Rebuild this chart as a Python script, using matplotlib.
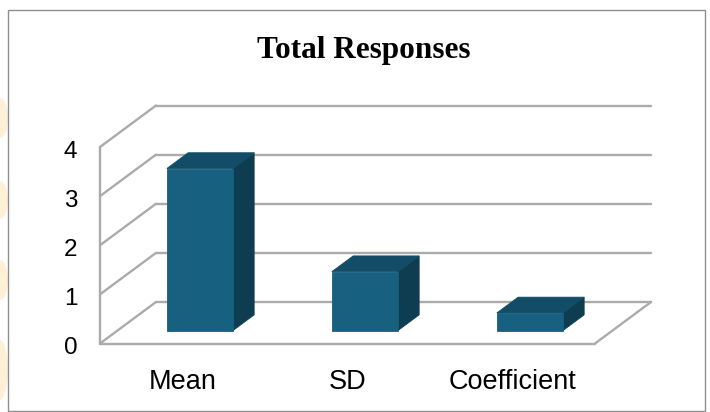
import matplotlib
matplotlib.use("Agg")
import matplotlib.pyplot as plt
from matplotlib.patches import Polygon, Rectangle, Ellipse
from matplotlib.lines import Line2D
from matplotlib.transforms import ScaledTranslation

# Chart data
categories = ["Mean", "SD", "Coefficient"]
values = [3.3, 1.2, 0.36]
y_ticks = [0, 1, 2, 3, 4]
title = "Total Responses"

W, H, DPI = 710, 412, 100
fig = plt.figure(figsize=(W / DPI, H / DPI), dpi=DPI)
fig.patch.set_facecolor("white")

# Front plane of the 3-D box, placed in pixels
left_px, right_px = 100, 595
base_px, top_px = 343.5, 147
ax = fig.add_axes([left_px / W, (H - base_px) / H,
                   (right_px - left_px) / W, (base_px - top_px) / H])
ax.set_xlim(0, len(categories))
ax.set_ylim(0, max(y_ticks))
ax.axis("off")
ax.set_zorder(4)

# Depth vector of the box (inches, for a full depth of 1)
DEPTH_X, DEPTH_Y = 0.56, 0.415


def proj(x, y, d):
    """Data point (x, y) pushed back by depth fraction d -> figure fraction."""
    px, py = ax.transData.transform((x, y))
    px += DEPTH_X * d * fig.dpi
    py += DEPTH_Y * d * fig.dpi
    return fig.transFigure.inverted().transform((px, py))


grid_kw = dict(color="#ABABAB", lw=1.7, solid_capstyle="round",
               transform=fig.transFigure, zorder=1)


def seg(p, q):
    fig.add_artist(Line2D([p[0], q[0]], [p[1], q[1]], **grid_kw))


n = len(categories)
ymax = max(y_ticks)

# Back wall gridlines and left wall diagonals
for k in y_ticks:
    seg(proj(0, k, 1), proj(n, k, 1))
    seg(proj(0, k, 0), proj(0, k, 1))
# Left wall front edge
seg(proj(0, 0, 0), proj(0, ymax, 0))
# Floor
seg(proj(0, 0, 0), proj(n, 0, 0))
seg(proj(n, 0, 0), proj(n, 0, 1))

# Bars
front_c, top_c, side_c = "#17607F", "#124C67", "#0E3D52"
half_w = 0.2
d0, d1 = 0.31, 0.69
for i, v in enumerate(values):
    x0, x1 = i + 0.5 - half_w, i + 0.5 + half_w
    side = [proj(x1, 0, d0), proj(x1, 0, d1), proj(x1, v, d1), proj(x1, v, d0)]
    top = [proj(x0, v, d0), proj(x1, v, d0), proj(x1, v, d1), proj(x0, v, d1)]
    front = [proj(x0, 0, d0), proj(x1, 0, d0), proj(x1, v, d0), proj(x0, v, d0)]
    for pts, c in ((side, side_c), (top, top_c), (front, front_c)):
        fig.add_artist(Polygon(pts, closed=True, facecolor=c, edgecolor=c,
                               lw=0.6, transform=fig.transFigure, zorder=3))

# Value axis labels
for k in y_ticks:
    tr = ax.transData + ScaledTranslation(-0.225, -0.11, fig.dpi_scale_trans)
    ax.text(0, k, str(k), transform=tr, ha="right", va="baseline",
            fontsize=17.5, family="Liberation Sans", color="black", clip_on=False)

# Category labels
for i, name in enumerate(categories):
    tr = ax.get_xaxis_transform() + ScaledTranslation(0, -0.458, fig.dpi_scale_trans)
    ax.text(i + 0.5, 0, name, transform=tr, ha="center", va="baseline",
            fontsize=19.5, family="Liberation Sans", color="black", clip_on=False)

# Title
fig.text(363.5 / W, (H - 58.3) / H, title, ha="center", va="baseline",
         fontsize=22.5, fontweight="bold", family="Liberation Serif", color="black")

# Faint decorative blobs along the left margin
for cy, h in ((118, 40), (200, 38), (280, 40), (370, 60)):
    fig.add_artist(Ellipse((0, (H - cy) / H), 16 / W, h / H,
                           facecolor="#FDEBC6", edgecolor="none", alpha=0.7,
                           transform=fig.transFigure, zorder=0))
fig.add_artist(Rectangle((7.5 / W, (H - 410.5) / H), 697 / W, 401 / H,
                         facecolor="white", edgecolor="none",
                         transform=fig.transFigure, zorder=0.5))

# Frame around the chart area
fig.add_artist(Rectangle((7.5 / W, (H - 410.5) / H), 697 / W, 401 / H,
                         facecolor="none", edgecolor="#8F8F8F", lw=1.0,
                         transform=fig.transFigure, zorder=5))

fig.savefig("out.png", dpi=DPI)
